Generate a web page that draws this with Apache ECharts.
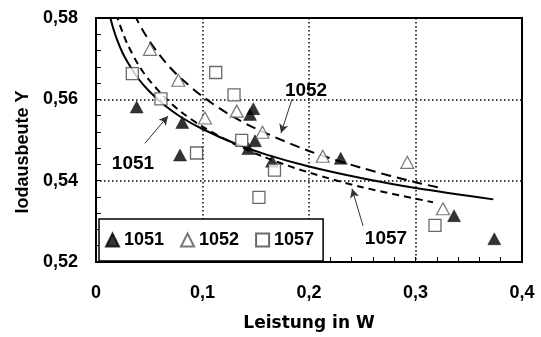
<!DOCTYPE html>
<html>
<head>
<meta charset="utf-8">
<script src="https://cdn.jsdelivr.net/npm/echarts@6/dist/echarts.min.js"></script>
<style>
  html, body { margin: 0; padding: 0; background: #fff; }
  #chart { width: 541px; height: 337px; }
</style>
</head>
<body>
<div id="chart"></div>
<script>
// Measured points: [Leistung in W, Iodausbeute Y]
const pts1051 = [
  [0.0382, 0.5581], [0.0810, 0.5543], [0.0789, 0.5463], [0.1477, 0.5577],
  [0.1446, 0.5563], [0.1493, 0.5498], [0.1430, 0.5479], [0.1653, 0.5448],
  [0.2298, 0.5455], [0.3362, 0.5314], [0.3740, 0.5257]
];
const pts1052 = [
  [0.0507, 0.5723], [0.0773, 0.5647], [0.1023, 0.5554], [0.1321, 0.5571],
  [0.1563, 0.5519], [0.2129, 0.5460], [0.2923, 0.5445], [0.3258, 0.5331]
];
const pts1057 = [
  [0.0341, 0.5663], [0.0610, 0.5601], [0.0944, 0.5468], [0.1124, 0.5666],
  [0.1296, 0.5611], [0.1368, 0.5499], [0.1676, 0.5426], [0.1530, 0.5359],
  [0.3183, 0.5290]
];

// Trend curves for each series
const curve1051 = [
  [0.0125, 0.5811], [0.016, 0.5776], [0.02, 0.5745], [0.025, 0.5714],
  [0.03, 0.5690], [0.04, 0.5650], [0.05, 0.5620], [0.065, 0.5584],
  [0.08, 0.5556], [0.10, 0.5527], [0.13, 0.5492], [0.16, 0.5464],
  [0.20, 0.5435], [0.25, 0.5406], [0.30, 0.5382], [0.3731, 0.5354]
];
const curve1052 = [
  [0.036, 0.5810], [0.04, 0.5788], [0.045, 0.5765], [0.05, 0.5744],
  [0.06, 0.5708], [0.07, 0.5677], [0.08, 0.5651], [0.10, 0.5607],
  [0.125, 0.5563], [0.15, 0.5528], [0.20, 0.5473], [0.25, 0.5431],
  [0.30, 0.5396], [0.3261, 0.5381]
];
const curve1057 = [
  [0.019, 0.5811], [0.022, 0.5786], [0.026, 0.5758], [0.03, 0.5733],
  [0.04, 0.5684], [0.05, 0.5647], [0.065, 0.5604], [0.08, 0.5569],
  [0.10, 0.5533], [0.13, 0.5490], [0.16, 0.5456], [0.20, 0.5420],
  [0.25, 0.5384], [0.3164, 0.5347]
];

// Tick labels (German decimal comma)
const xTickLabels = ['0', '0,1', '0,2', '0,3', '0,4'];
const yTickLabels = ['0,52', '0,54', '0,56', '0,58'];

// Callout labels: text position and arrow [from, to]
const callout1051 = { text: '1051', at: [0.0347, 0.5441], from: [0.046, 0.5492], to: [0.0676, 0.5559] };
const callout1052 = { text: '1052', at: [0.1972, 0.5620], from: [0.184, 0.5600], to: [0.1737, 0.5517] };
const callout1057 = { text: '1057', at: [0.2723, 0.5257], from: [0.2507, 0.5289], to: [0.2404, 0.5380] };

const FONT = "'Liberation Sans', Arial, sans-serif";

function calloutMarks(c) {
  return {
    markLine: {
      silent: true,
      symbol: ['none', 'arrow'],
      symbolSize: [7, 9],
      lineStyle: { color: '#333', width: 1, type: 'solid' },
      label: { show: false },
      emphasis: { disabled: true },
      data: [[{ coord: c.from }, { coord: c.to }]]
    },
    markPoint: {
      silent: true,
      symbol: 'rect',
      symbolSize: 1,
      itemStyle: { color: 'rgba(0,0,0,0)' },
      label: {
        show: true, position: 'inside', formatter: c.text,
        color: '#000', fontFamily: FONT, fontWeight: 'bold', fontSize: 19
      },
      data: [{ coord: c.at }]
    }
  };
}

const chart = echarts.init(document.getElementById('chart'), null, { renderer: 'canvas' });

chart.setOption({
  backgroundColor: '#fff',
  animation: false,
  grid: {
    left: 96, right: 19, top: 18, bottom: 74,
    show: true, borderColor: '#000', borderWidth: 2, backgroundColor: 'transparent'
  },
  legend: {
    data: ['1051', '1052', '1057'],
    left: 99, top: 219,
    padding: [12, 9, 12, 6],
    itemWidth: 13, itemHeight: 13, itemGap: 16,
    borderColor: '#000', borderWidth: 1.5, backgroundColor: '#fff',
    textStyle: { fontFamily: FONT, fontWeight: 'bold', fontSize: 18, color: '#000' }
  },
  xAxis: {
    type: 'value', min: 0, max: 0.4, interval: 0.1,
    name: 'Leistung in W', nameLocation: 'middle', nameGap: 53,
    nameTextStyle: { fontFamily: "'DejaVu Sans', sans-serif", fontWeight: 'bold', fontSize: 17, color: '#000' },
    axisLine: { show: true, lineStyle: { color: '#000', width: 1.5 } },
    axisTick: { show: true, inside: true, length: 5, lineStyle: { color: '#000', width: 1 } },
    minorTick: { show: true, splitNumber: 5, length: 5, lineStyle: { color: '#000', width: 1 } },
    axisLabel: {
      margin: 22, color: '#000', fontFamily: FONT, fontWeight: 'bold', fontSize: 18,
      formatter: v => xTickLabels[Math.round(v * 10)]
    },
    splitLine: { show: true, lineStyle: { color: '#000', width: 1.5, type: [1.5, 2.5] } }
  },
  yAxis: {
    type: 'value', min: 0.52, max: 0.58, interval: 0.02,
    name: 'Iodausbeute Y', nameLocation: 'middle', nameGap: 60, nameRotate: 90,
    nameTextStyle: { fontFamily: FONT, fontWeight: 'bold', fontSize: 18, color: '#000', padding: [0, 0, 0, -24] },
    axisLine: { show: true, lineStyle: { color: '#000', width: 1.5 } },
    axisTick: { show: true, inside: true, length: 5, lineStyle: { color: '#000', width: 1 } },
    minorTick: { show: true, splitNumber: 5, length: 5, lineStyle: { color: '#000', width: 1 } },
    axisLabel: {
      margin: 18, color: '#000', fontFamily: FONT, fontWeight: 'bold', fontSize: 18,
      formatter: v => yTickLabels[Math.round((v - 0.52) / 0.02)]
    },
    splitLine: { show: true, lineStyle: { color: '#000', width: 1.5, type: [1.5, 2.5] } }
  },
  series: [
    Object.assign({
      name: 'fit1051', type: 'line', data: curve1051, smooth: 0.3, showSymbol: false,
      lineStyle: { color: '#000', width: 2 }, silent: true, z: 2
    }, calloutMarks(callout1051)),
    Object.assign({
      name: 'fit1052', type: 'line', data: curve1052, smooth: 0.3, showSymbol: false,
      lineStyle: { color: '#000', width: 2, type: [10, 6] }, silent: true, z: 2
    }, calloutMarks(callout1052)),
    Object.assign({
      name: 'fit1057', type: 'line', data: curve1057, smooth: 0.3, showSymbol: false,
      lineStyle: { color: '#000', width: 2, type: [7, 5] }, silent: true, z: 2
    }, calloutMarks(callout1057)),
    {
      name: '1051', type: 'scatter', data: pts1051, symbol: 'triangle', symbolSize: [13, 12],
      itemStyle: { color: '#000', borderColor: '#000', borderWidth: 0.5 }, z: 3
    },
    {
      name: '1052', type: 'scatter', data: pts1052, symbol: 'triangle', symbolSize: [13, 12],
      itemStyle: { color: '#fff', borderColor: '#555', borderWidth: 1.2 }, z: 4
    },
    {
      name: '1057', type: 'scatter', data: pts1057, symbol: 'rect', symbolSize: [12, 12],
      itemStyle: { color: '#fff', borderColor: '#444', borderWidth: 1.3 }, z: 5
    }
  ]
});
</script>
</body>
</html>
